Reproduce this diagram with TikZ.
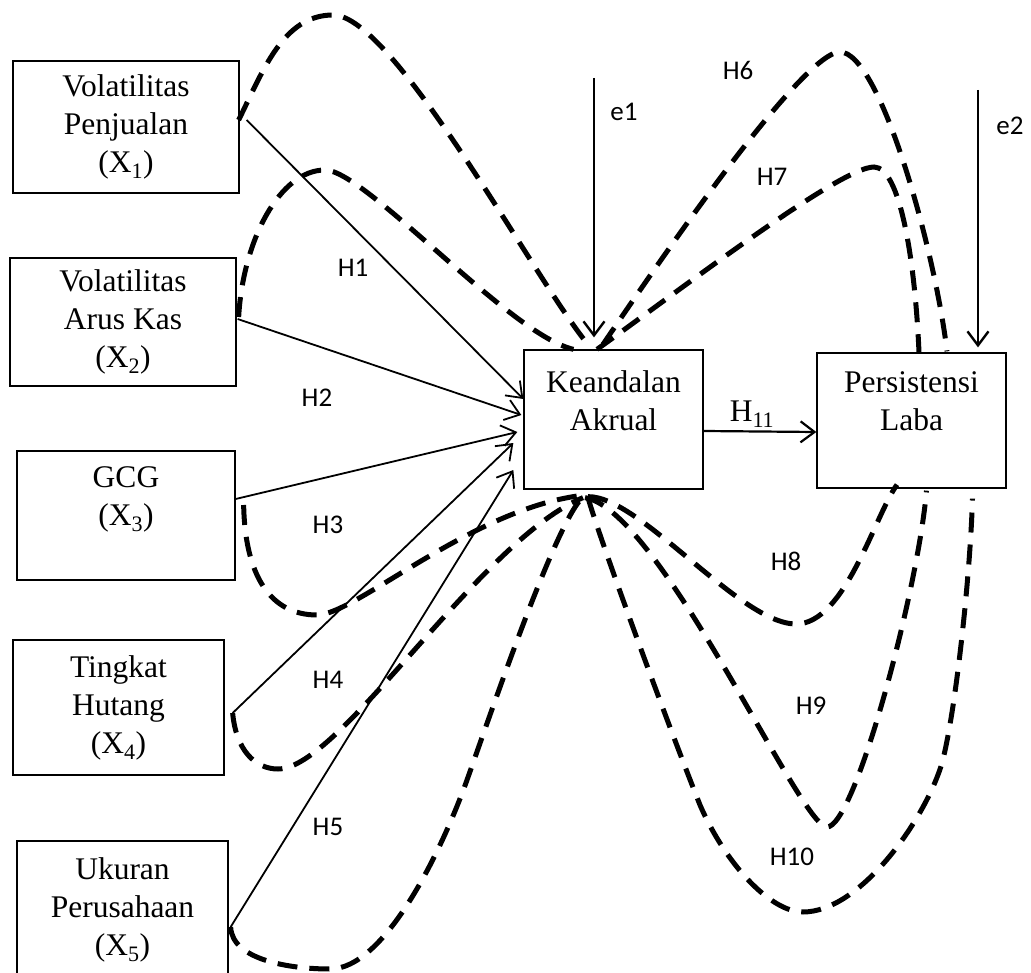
\documentclass[tikz,border=0pt]{standalone}
\usepackage{fontspec}
\setmainfont{Liberation Serif}
\newfontfamily\lblfont{Carlito}
\usetikzlibrary{arrows.meta}
\tikzset{
	var/.style={draw, line width=1.3pt, inner sep=0pt, align=center, font=\fontsize{31.5}{38}\selectfont},
	arr/.style={line width=1.8pt, -{Straight Barb[length=14pt,width=21pt]}},
	hyp/.style={line width=5pt, dash pattern=on 20pt off 12pt},
	lbl/.style={font=\lblfont\fontsize{27}{32}\selectfont}
}

\begin{document}
\begin{tikzpicture}[x=1pt,y=-1pt]
			\useasboundingbox (0,0) rectangle (1031,973);
			\node[var, minimum width=226pt, minimum height=132pt] (x1) at (126,127) {Volatilitas\\Penjualan\\(X\textsubscript{1})};
			\node[var, minimum width=226pt, minimum height=128pt] (x2) at (123,322) {Volatilitas\\Arus Kas\\(X\textsubscript{2})};
			\node[var, minimum width=218pt, minimum height=129pt] (x3) at (126,515.5) {GCG\\(X\textsubscript{3})\\~};
			\node[var, minimum width=211pt, minimum height=135pt] (x4) at (118.5,707.5) {Tingkat\\Hutang\\(X\textsubscript{4})};
			\node[var, minimum width=211pt, minimum height=138pt] (x5) at (122.5,910) {Ukuran\\Perusahaan\\(X\textsubscript{5})};
			\node[var, minimum width=179pt, minimum height=139pt] (ka) at (613.5,419.5) {Keandalan\\Akrual\\~};
			\node[var, minimum width=189pt, minimum height=135pt] (pl) at (911.5,420.5) {Persistensi\\Laba\\~};
			
			\draw[arr] ([shift={(7,-7)}]x1.east) -- ([shift={(0,-20.5)}]ka.west);
			\draw[arr] ([shift={(1,-3)}]x2.east) -- ([shift={(-2,-4.5)}]ka.west);
			\draw[arr] ([shift={(0,-16.5)}]x3.east) -- ([shift={(-6,12.5)}]ka.west);
			\draw[arr] ([shift={(8,5.5)}]x4.east) -- ([shift={(-10,23.5)}]ka.west);
			\draw[arr] ([shift={(2,17)}]x5.east) -- ([shift={(-10,50.5)}]ka.west);
			\draw[arr, line width=2.2pt] ([shift={(0,11.5)}]ka.east) -- ([shift={(0,11.5)}]pl.west);
			\node[font=\fontsize{31.5}{38}\selectfont] (h11) at (752,414) {H\textsubscript{11}};
			
			\coordinate (e1top) at (594,78);
			\coordinate (e2top) at (978,90);
			\draw[arr, line width=2.4pt] (e1top) -- ([shift={(-19.5,-12)}]ka.north);
			\draw[arr, line width=2.4pt] (e2top) -- ([shift={(66.5,-5)}]pl.north);
			\node[lbl] (e1) at (624,112) {e1};
			\node[lbl] (e2) at (1010,126) {e2};
			
			\draw[hyp] ([shift={(-1,-7)}]x1.east) .. controls (263,71) and (283,15) .. (333,15) .. controls (395,15) and (540,290) .. ([shift={(-23,-2)}]ka.north);
			\draw[hyp] ([shift={(2,-5)}]x2.east) .. controls (243,240) and (280,170) .. (325,170) .. controls (365,170) and (510,335) .. ([shift={(-40,0)}]ka.north);
			\draw[hyp] ([shift={(8,-10.5)}]x3.east) .. controls (245,575) and (270,615) .. (317,615) .. controls (355,615) and (470,510) .. ([shift={(-33.5,6)}]ka.south);
			\draw[hyp] ([shift={(8,5.5)}]x4.east) .. controls (236,750) and (255,769) .. (278,769) .. controls (340,769) and (480,540) .. ([shift={(-30.5,8)}]ka.south);
			\draw[hyp] ([shift={(2,17)}]x5.east) .. controls (232,960) and (290,969) .. (330,969) .. controls (385,969) and (442,850) .. (467,780) .. controls (492,710) and (560,510) .. ([shift={(-28.5,6)}]ka.south);
			\draw[hyp] ([shift={(-10.5,-5)}]ka.north) .. controls (640,290) and (800,52) .. (840,52) .. controls (880,52) and (935,250) .. ([shift={(35.5,-1)}]pl.north);
			\draw[hyp] ([shift={(-16.5,0)}]ka.north) .. controls (680,290) and (840,167) .. (874,167) .. controls (900,167) and (915,260) .. ([shift={(7.5,0)}]pl.north);
			\draw[hyp] ([shift={(-25.5,7)}]ka.south) .. controls (640,496) and (740,624) .. (796,624) .. controls (845,624) and (875,515) .. ([shift={(-14.5,-4)}]pl.south);
			\draw[hyp] ([shift={(-28.5,8)}]ka.south) .. controls (660,510) and (800,827) .. (827,827) .. controls (855,827) and (918,590) .. ([shift={(15,2)}]pl.south);
			\draw[hyp] ([shift={(-25.5,8)}]ka.south) .. controls (600,540) and (670,730) .. (700,805) .. controls (725,863) and (770,912) .. (803,912) .. controls (860,912) and (925,820) .. (942,763) .. controls (955,715) and (970,580) .. ([shift={(61,10)}]pl.south);
			
			\node[lbl] (h1) at (353,268) {H1};
			\node[lbl] (h2) at (317,398) {H2};
			\node[lbl] (h3) at (328,525) {H3};
			\node[lbl] (h4) at (328,680) {H4};
			\node[lbl] (h5) at (328,827) {H5};
			\node[lbl] (h6) at (738,70) {H6};
			\node[lbl] (h7) at (772,177) {H7};
			\node[lbl] (h8) at (786,561) {H8};
			\node[lbl] (h9) at (811,706) {H9};
			\node[lbl] (h10) at (792,857) {H10};
		\end{tikzpicture}
\end{document}
